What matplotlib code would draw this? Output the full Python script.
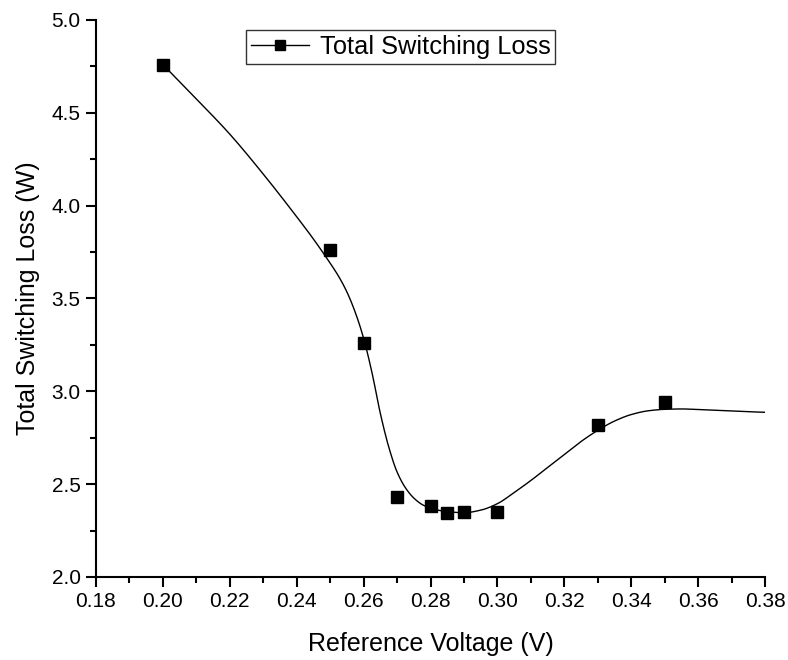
import numpy as np
import matplotlib
matplotlib.use("Agg")
import matplotlib.pyplot as plt
from matplotlib.lines import Line2D
from matplotlib.ticker import MultipleLocator, FormatStrFormatter

plt.rcParams['font.family'] = ['Liberation Sans', 'DejaVu Sans']

# Measured switching loss
ref_voltage = [0.20, 0.25, 0.26, 0.27, 0.28, 0.285, 0.29, 0.30, 0.33, 0.35]
switching_loss = [4.76, 3.76, 3.26, 2.43, 2.38, 2.345, 2.35, 2.35, 2.82, 2.94]

# Smoothed trend curve values
curve_x = [0.200, 0.210, 0.220, 0.230, 0.240, 0.245, 0.250, 0.2525, 0.255, 0.2575,
           0.260, 0.2625, 0.265, 0.2675, 0.270, 0.2725, 0.275, 0.2775, 0.280, 0.285,
           0.290, 0.295, 0.300, 0.305, 0.310, 0.315, 0.320, 0.325, 0.330, 0.335,
           0.340, 0.345, 0.350, 0.355, 0.360, 0.365, 0.370, 0.375, 0.380]
curve_y = [4.760, 4.575, 4.385, 4.170, 3.940, 3.820, 3.690, 3.620, 3.535, 3.425,
           3.285, 3.100, 2.880, 2.700, 2.565, 2.480, 2.425, 2.390, 2.370, 2.352,
           2.346, 2.360, 2.395, 2.455, 2.520, 2.590, 2.660, 2.730, 2.790, 2.840,
           2.875, 2.895, 2.903, 2.905, 2.902, 2.898, 2.894, 2.890, 2.887]

x_ticks_major = 0.02
y_ticks_major = 0.5


def pchip(x, y, xs):
    """Monotone piecewise cubic Hermite interpolation (Fritsch-Carlson)."""
    x = np.asarray(x, float)
    y = np.asarray(y, float)
    h = np.diff(x)
    d = np.diff(y) / h
    m = np.zeros_like(y)
    for k in range(1, len(x) - 1):
        if d[k - 1] * d[k] > 0:
            w1 = 2 * h[k] + h[k - 1]
            w2 = h[k] + 2 * h[k - 1]
            m[k] = (w1 + w2) / (w1 / d[k - 1] + w2 / d[k])
    m[0] = d[0]
    m[-1] = d[-1]
    idx = np.clip(np.searchsorted(x, xs) - 1, 0, len(x) - 2)
    t = (xs - x[idx]) / h[idx]
    h00 = 2 * t**3 - 3 * t**2 + 1
    h10 = t**3 - 2 * t**2 + t
    h01 = -2 * t**3 + 3 * t**2
    h11 = t**3 - t**2
    return (h00 * y[idx] + h10 * h[idx] * m[idx]
            + h01 * y[idx + 1] + h11 * h[idx] * m[idx + 1])


fig = plt.figure(figsize=(7.88, 6.6), dpi=100)
ax = fig.add_axes([0.1218, 0.1258, 0.8492, 0.8439])

xs = np.linspace(curve_x[0], curve_x[-1], 800)
ax.plot(xs, pchip(curve_x, curve_y, xs), color='black', lw=1.0)
ax.plot(ref_voltage, switching_loss, linestyle='none', marker='s',
        markersize=8, color='black')

ax.set_xlim(0.18, 0.38)
ax.set_ylim(2.0, 5.0)
ax.xaxis.set_major_locator(MultipleLocator(x_ticks_major))
ax.xaxis.set_minor_locator(MultipleLocator(x_ticks_major / 2))
ax.yaxis.set_major_locator(MultipleLocator(y_ticks_major))
ax.yaxis.set_minor_locator(MultipleLocator(y_ticks_major / 2))
ax.xaxis.set_major_formatter(FormatStrFormatter('%.2f'))
ax.yaxis.set_major_formatter(FormatStrFormatter('%.1f'))

for side in ('top', 'right'):
    ax.spines[side].set_visible(False)
for side in ('left', 'bottom'):
    ax.spines[side].set_linewidth(1.5)

ax.tick_params(which='major', direction='out', length=7, width=1.5,
               labelsize=15, pad=4)
ax.tick_params(which='minor', direction='out', length=4.5, width=1.5)

ax.set_xlabel('Reference Voltage (V)', fontsize=18, labelpad=15)
ax.set_ylabel('Total Switching Loss (W)', fontsize=18, labelpad=8)

handle = Line2D([], [], color='black', lw=1.0, marker='s', markersize=6.5)
leg = ax.legend([handle], ['Total Switching Loss'], loc='upper left',
                bbox_to_anchor=(0.224, 0.982), borderaxespad=0,
                fontsize=18.3, frameon=True, fancybox=False,
                handlelength=2.3, handletextpad=0.4, borderpad=0.2)
leg.get_frame().set_edgecolor('black')
leg.get_frame().set_linewidth(1.0)

fig.savefig('out.png', dpi=100, facecolor='white')
